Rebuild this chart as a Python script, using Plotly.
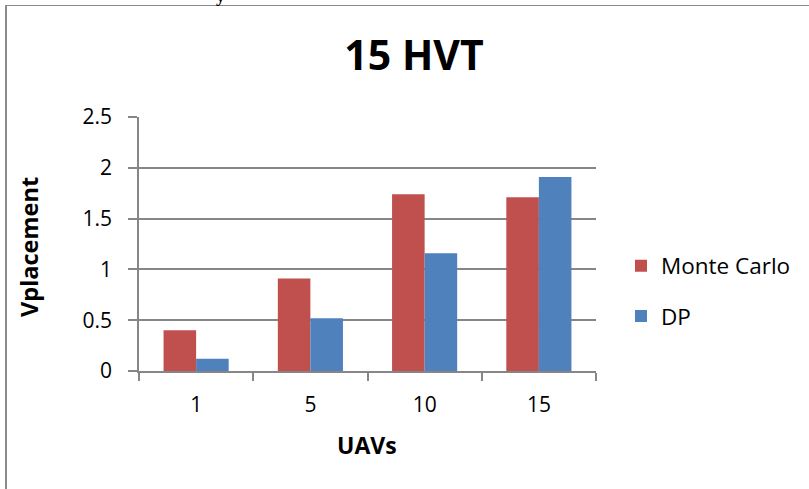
import plotly.graph_objects as go

categories = ["1", "5", "10", "15"]
monte_carlo = [0.40, 0.91, 1.74, 1.71]
dp = [0.12, 0.52, 1.16, 1.91]
y_ticks = [0, 0.5, 1, 1.5, 2, 2.5]
y_tick_labels = ["0", "0.5", "1", "1.5", "2", "2.5"]

W, H = 809, 489
ML, MR, MT, MB = 139, 213, 117, 118
PW, PH = W - ML - MR, H - MT - MB
FONT = "Open Sans"
GRID = "#868686"

fig = go.Figure()
fig.add_trace(go.Bar(name="Monte Carlo", x=categories, y=monte_carlo, legendgroup="a",
                     marker=dict(color="#C0504D", line=dict(width=0))))
fig.add_trace(go.Bar(name="DP", x=categories, y=dp, legendgroup="b",
                     marker=dict(color="#4F81BD", line=dict(width=0))))

def px_x(p):
    return (p - ML) / PW

def px_y(p):
    return 1 - (p - MT) / PH

fig.update_layout(
    width=W, height=H,
    margin=dict(l=ML, r=MR, t=MT, b=MB, autoexpand=False),
    paper_bgcolor="white", plot_bgcolor="white",
    barmode="group", bargap=0.43, bargroupgap=0,
    font=dict(family=FONT, color="black"),
    title=dict(text="<b>15 HVT</b>", xref="container", x=414 / W, xanchor="center",
               yref="container", y=1 - 56 / H, yanchor="middle",
               font=dict(size=41, family=FONT, color="black")),
    showlegend=True,
    legend=dict(x=px_x(621), xanchor="left", y=px_y(291), yanchor="middle",
                font=dict(size=22.5, family=FONT, color="black"),
                itemsizing="constant", tracegroupgap=18, itemwidth=30,
                bgcolor="rgba(0,0,0,0)"),
    xaxis=dict(
        showline=True, linecolor=GRID, linewidth=1.5,
        ticks="outside", tickson="boundaries", ticklen=8, tickcolor=GRID, tickwidth=1.5,
        tickfont=dict(size=21, family=FONT), showgrid=False, ticklabelstandoff=14,
    ),
    yaxis=dict(
        range=[0, 2.5], tickvals=y_ticks, ticktext=y_tick_labels,
        showline=True, linecolor=GRID, linewidth=1.5,
        ticks="outside", ticklen=9, tickcolor=GRID, tickwidth=1.5,
        showgrid=True, gridcolor=GRID, gridwidth=1.5,
        tickfont=dict(size=21, family=FONT), zeroline=False, ticklabelstandoff=12,
    ),
    shapes=[
        dict(type="line", xref="paper", yref="paper",
             x0=px_x(6), x1=px_x(6), y0=px_y(5), y1=px_y(495),
             line=dict(color="#8a8a8a", width=2)),
        dict(type="line", xref="paper", yref="paper",
             x0=px_x(5), x1=px_x(815), y0=px_y(5.5), y1=px_y(5.5),
             line=dict(color="#8a8a8a", width=1)),
    ],
    annotations=[
        dict(text="<b>UAVs</b>", xref="paper", yref="paper", x=px_x(367), y=px_y(445),
             xanchor="center", yanchor="middle", showarrow=False,
             font=dict(size=23, family=FONT, color="black")),
        dict(text="<b>Vplacement</b>", xref="paper", yref="paper", x=px_x(29), y=px_y(247),
             xanchor="center", yanchor="middle", showarrow=False, textangle=-90,
             font=dict(size=23.5, family=FONT, color="black")),
        dict(text="<b>y</b>", xref="paper", yref="paper", x=px_x(220), y=px_y(-4),
             xanchor="center", yanchor="middle", showarrow=False,
             font=dict(size=18, family="Liberation Serif", color="black")),
    ],
)

fig.write_html("out.html", config={"displayModeBar": False},
               post_script="document.body.style.margin='0';"
               "document.body.style.padding='0';")
